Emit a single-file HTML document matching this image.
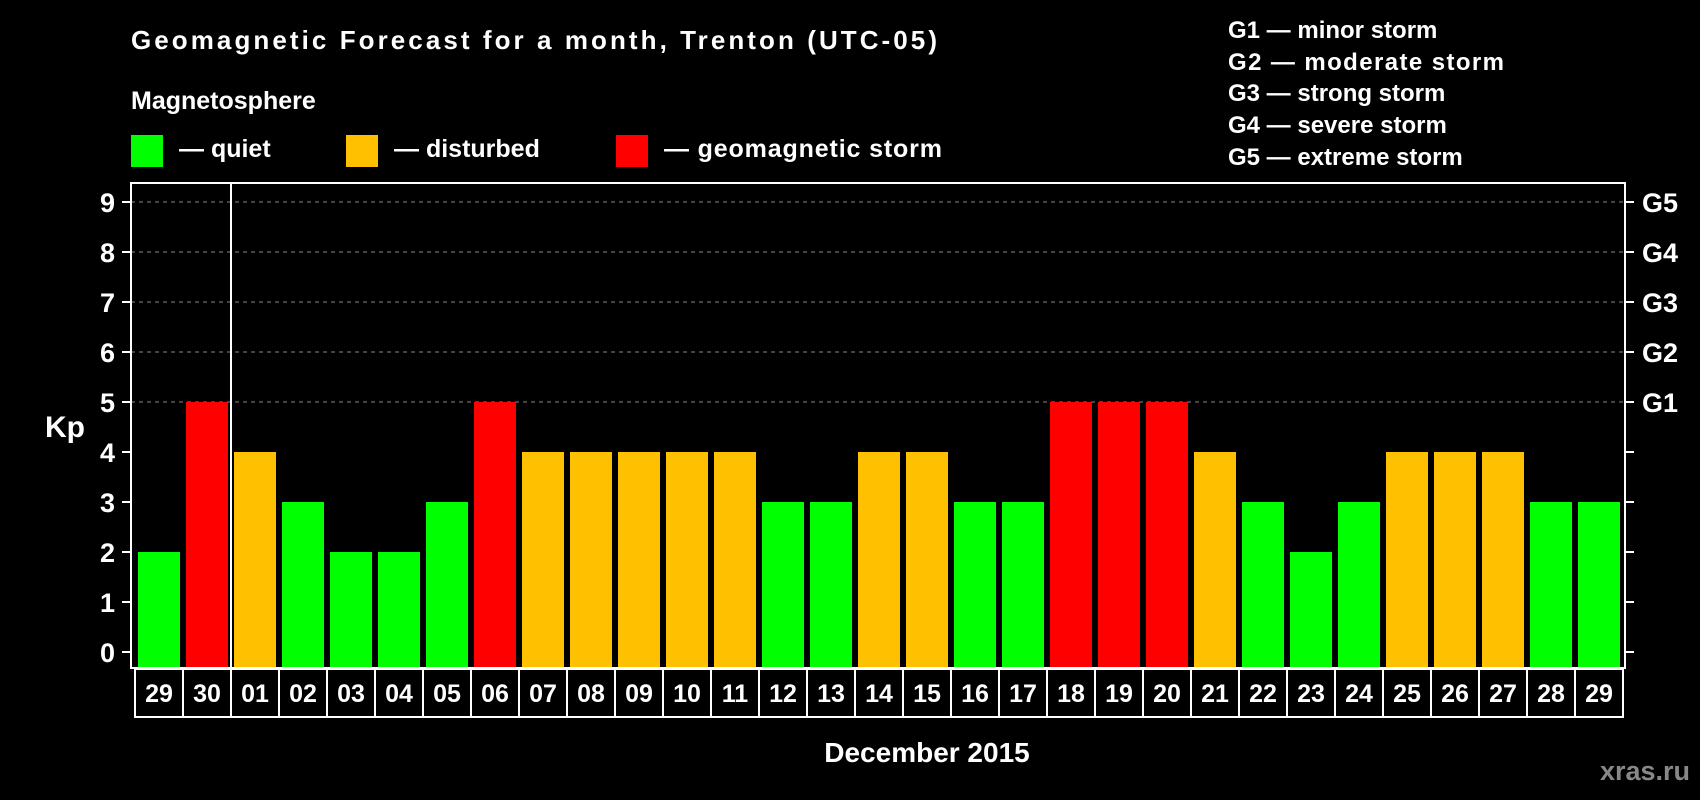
<!DOCTYPE html>
<html><head><meta charset="utf-8"><style>
html,body{margin:0;padding:0;background:#000;}
svg{display:block;font-family:"Liberation Sans",Arial,sans-serif;font-weight:bold;}
</style></head><body>
<svg id="chart" width="1700" height="800" viewBox="0 0 1700 800">
<rect x="0" y="0" width="1700" height="800" fill="#000"/>
<text x="131" y="49" fill="#fff" font-size="26" textLength="806">Geomagnetic Forecast for a month, Trenton (UTC-05)</text>
<text x="131" y="109" fill="#fff" font-size="25">Magnetosphere</text>
<g><rect x="131" y="135" width="32" height="32" fill="#00ff00"/><text x="179" y="157" fill="#fff" font-size="25">— quiet</text></g>
<g><rect x="346" y="135" width="32" height="32" fill="#ffc000"/><text x="394" y="157" fill="#fff" font-size="25">— disturbed</text></g>
<g><rect x="616" y="135" width="32" height="32" fill="#ff0000"/><text x="664" y="157" fill="#fff" font-size="25" textLength="278">— geomagnetic storm</text></g>
<g fill="#fff" font-size="24">
<text x="1228" y="38">G1 — minor storm</text>
<text x="1228" y="70" textLength="276">G2 — moderate storm</text>
<text x="1228" y="101">G3 — strong storm</text>
<text x="1228" y="133">G4 — severe storm</text>
<text x="1228" y="165">G5 — extreme storm</text>
</g>
<g id="grid"></g>
<g id="bars"></g>
<rect x="131" y="183" width="1494" height="485" fill="none" stroke="#fff" stroke-width="2"/>
<line x1="231" y1="183" x2="231" y2="668" stroke="#fff" stroke-width="2"/>
<g id="axes"></g>
<g id="dates"></g>
<text x="45" y="437" fill="#fff" font-size="30">Kp</text>
<text x="927" y="762" fill="#fff" font-size="28" text-anchor="middle">December 2015</text>
<text x="1690" y="780" fill="#888" font-size="27" text-anchor="end">xras.ru</text>
</svg>
<script>
const days = ["29","30","01","02","03","04","05","06","07","08","09","10","11","12","13","14","15","16","17","18","19","20","21","22","23","24","25","26","27","28","29"];
const kpValues = [2,5,4,3,2,2,3,5,4,4,4,4,4,3,3,4,4,3,3,5,5,5,4,3,2,3,4,4,4,3,3];
const yTicks = [0,1,2,3,4,5,6,7,8,9];
const gLabels = ["","","","","","G1","G2","G3","G4","G5"];
const NS="http://www.w3.org/2000/svg";
function y(v){return 652 - v*50;}
function x(i){return 138 + i*48;}
function mk(tag,attrs,parent){const e=document.createElementNS(NS,tag);for(const k in attrs)e.setAttribute(k,attrs[k]);parent.appendChild(e);return e;}
function color(v){return v>=5?"#ff0000":(v>=4?"#ffc000":"#00ff00");}
const grid=document.getElementById('grid'),bars=document.getElementById('bars'),axes=document.getElementById('axes'),dates=document.getElementById('dates');
yTicks.forEach((t,i)=>{
  if(t>=5){const l=mk('line',{x1:131,x2:1625,y1:y(t),y2:y(t),stroke:'#888','stroke-width':1,'stroke-dasharray':'4,4'},grid);
  
  }
  const tl=mk('line',{x1:122,x2:131,y1:y(t),y2:y(t),stroke:'#fff','stroke-width':2},axes);
  
  
  const tr=mk('line',{x1:1625,x2:1634,y1:y(t),y2:y(t),stroke:'#fff','stroke-width':2},axes);
  
  
  const lt=mk('text',{x:115,y:y(t)+10,fill:'#fff','font-size':27,'text-anchor':'end'},axes);
  lt.textContent=t;
  
  
  if(gLabels[i]){const g=mk('text',{x:1642,y:y(t)+10,fill:'#fff','font-size':27},axes);
  g.textContent=gLabels[i];
  
  }
});
kpValues.forEach((v,i)=>{
  const r=mk('rect',{x:x(i),y:y(v),width:42,height:668-y(v),fill:color(v)},bars);
  
  
  const b=mk('rect',{x:135+i*48,y:669,width:48,height:48,fill:'#000',stroke:'#fff','stroke-width':2},dates);
  
  
  const t=mk('text',{x:159+i*48,y:702,fill:'#fff','font-size':25,'text-anchor':'middle'},dates);
  t.textContent=days[i];
  
  
});
</script>
</body></html>
